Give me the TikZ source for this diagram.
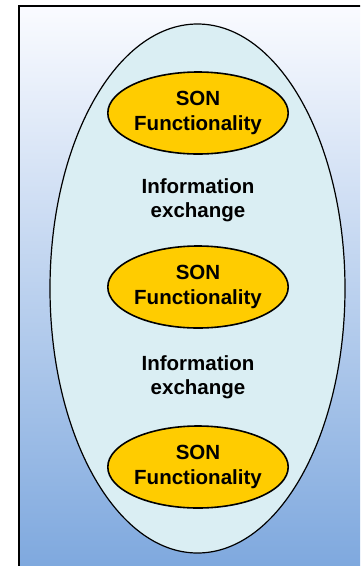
\documentclass[tikz,border=0pt]{standalone}
\usepackage{fontspec}
\setmainfont{Liberation Sans}
\usetikzlibrary{shapes.geometric}
\definecolor{bgtop}{RGB}{250,251,255}
\definecolor{bgbot}{RGB}{126,168,222}
\definecolor{cyanfill}{RGB}{218,238,243}
\definecolor{sonyellow}{RGB}{255,204,0}
\begin{document}
\begin{tikzpicture}[x=1pt,y=-1pt,
  txt/.style={font=\fontsize{20.5}{24.3}\selectfont\bfseries, align=center, text=black},
  son/.style={ellipse, draw=black, line width=1.6pt, fill=sonyellow, minimum width=180pt, minimum height=82pt, inner sep=0pt, txt},
  outer/.style={ellipse, draw=black, line width=1.2pt, fill=cyanfill, minimum width=295pt, minimum height=529pt, inner sep=0pt}]
\useasboundingbox (0,0) rectangle (360,566);
\begin{scope}
\clip (0,0) rectangle (360,566);
\shade[top color=bgtop, bottom color=bgbot, draw=black, line width=2pt] (19,6) rectangle (364,570);
\end{scope}
\node[outer] (big) at (197.5,288.5) {};
\node[son] (s1) at (198,113) {SON\\Functionality};
\node[txt] (i1) at (198,200) {Information\\exchange};
\node[son] (s2) at (198,287) {SON\\Functionality};
\node[txt] (i2) at (198,377) {Information\\exchange};
\node[son] (s3) at (198,467) {SON\\Functionality};
\end{tikzpicture}
\end{document}
